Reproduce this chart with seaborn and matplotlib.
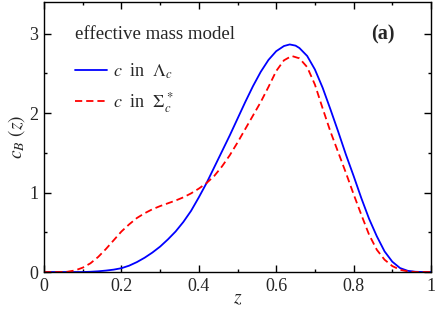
import numpy as np
import pandas as pd
import matplotlib
matplotlib.use("Agg")
import matplotlib.pyplot as plt
from matplotlib.ticker import MultipleLocator
import seaborn as sns

# Data
z_lambda = [0.0, 0.05, 0.10, 0.12, 0.14, 0.16, 0.18, 0.20, 0.22, 0.24, 0.26, 0.28,
            0.30, 0.32, 0.34, 0.36, 0.38, 0.40, 0.42, 0.44, 0.46, 0.48, 0.50, 0.52,
            0.54, 0.56, 0.58, 0.60, 0.62, 0.635, 0.65, 0.66, 0.68, 0.70, 0.72, 0.74,
            0.76, 0.78, 0.80, 0.82, 0.84, 0.86, 0.88, 0.90, 0.92, 0.94, 0.96, 0.98, 1.0]
c_lambda = [0.0, 0.0, 0.0, 0.003, 0.009, 0.018, 0.03, 0.048, 0.08, 0.125, 0.18, 0.245,
            0.32, 0.41, 0.51, 0.63, 0.77, 0.94, 1.12, 1.32, 1.52, 1.72, 1.93, 2.14,
            2.34, 2.52, 2.67, 2.78, 2.845, 2.865, 2.85, 2.82, 2.72, 2.55, 2.32, 2.05,
            1.77, 1.48, 1.21, 0.93, 0.67, 0.45, 0.26, 0.13, 0.05, 0.015, 0.003, 0.0, 0.0]

z_sigma = [0.0, 0.04, 0.06, 0.08, 0.10, 0.12, 0.14, 0.16, 0.18, 0.20, 0.22, 0.24,
           0.26, 0.28, 0.30, 0.32, 0.34, 0.36, 0.38, 0.40, 0.42, 0.44, 0.46, 0.48,
           0.50, 0.52, 0.54, 0.56, 0.58, 0.60, 0.62, 0.64, 0.66, 0.68, 0.70, 0.72,
           0.74, 0.76, 0.78, 0.80, 0.82, 0.84, 0.86, 0.88, 0.90, 0.92, 0.94, 0.96, 1.0]
c_sigma = [0.0, 0.0, 0.003, 0.02, 0.055, 0.11, 0.19, 0.29, 0.40, 0.51, 0.60, 0.68,
           0.74, 0.79, 0.83, 0.865, 0.90, 0.94, 0.99, 1.05, 1.12, 1.21, 1.33, 1.47,
           1.63, 1.80, 1.97, 2.14, 2.33, 2.53, 2.665, 2.72, 2.69, 2.58, 2.36, 2.06,
           1.77, 1.51, 1.25, 0.98, 0.72, 0.47, 0.28, 0.155, 0.075, 0.028, 0.008, 0.0, 0.0]

labels = [r"$c$  in  $\Lambda_c$", r"$c$  in  $\Sigma_c^*$"]
legend_title = "effective mass model"
panel_label = "(a)"

df = pd.concat([
    pd.DataFrame({"z": z_lambda, "c": c_lambda, "series": labels[0]}),
    pd.DataFrame({"z": z_sigma, "c": c_sigma, "series": labels[1]}),
])

sns.set_style("ticks")
plt.rcParams["font.family"] = ["Liberation Serif", "DejaVu Serif"]
plt.rcParams["mathtext.fontset"] = "stix"

fig = plt.figure(figsize=(4.36, 3.09), dpi=100)
ax = fig.add_axes([0.101, 0.1197, 0.8875, 0.874])

sns.lineplot(data=df, x="z", y="c", hue="series", style="series",
             palette={labels[0]: "#0000ff", labels[1]: "#ff0000"},
             dashes={labels[0]: "", labels[1]: (4, 2.2)},
             linewidth=1.3, ax=ax, sort=False, estimator=None)

ax.set_xlim(0, 1)
ax.set_ylim(0, 3.4)
ax.xaxis.set_minor_locator(MultipleLocator(0.1))
ax.yaxis.set_minor_locator(MultipleLocator(0.5))
ax.set_xticks([0, 0.2, 0.4, 0.6, 0.8, 1.0])
ax.set_xticklabels(["0", "0.2", "0.4", "0.6", "0.8", "1"])
ax.set_yticks([0, 1, 2, 3])
ax.set_yticklabels(["0", "1", "2", "3"])
ax.tick_params(which="both", direction="in", top=True, right=True, labelsize=13,
               width=1.0, color="black")
ax.tick_params(which="major", length=5, pad=4)
ax.tick_params(which="minor", length=2.5)
for s in ax.spines.values():
    s.set_linewidth(1.0)
    s.set_color("black")

ax.set_xlabel(r"$z$", fontsize=14, labelpad=-3)
ax.set_ylabel(r"$c_B\ (z)$", fontsize=14, labelpad=2)

handles, lbls = ax.get_legend_handles_labels()
leg = ax.legend(handles, lbls, loc="upper left",
                bbox_to_anchor=(0.08, 0.78), frameon=False, fontsize=13,
                handlelength=1.75, handletextpad=0.35, labelspacing=0.5,
                borderaxespad=0, borderpad=0)

ax.text(0.080, 0.878, legend_title, transform=ax.transAxes, fontsize=13.6,
        ha="left", va="center")
ax.text(0.876, 0.878, panel_label, transform=ax.transAxes, fontsize=14.5,
        fontweight="bold", ha="center", va="center")

fig.savefig("out.png", dpi=100)
